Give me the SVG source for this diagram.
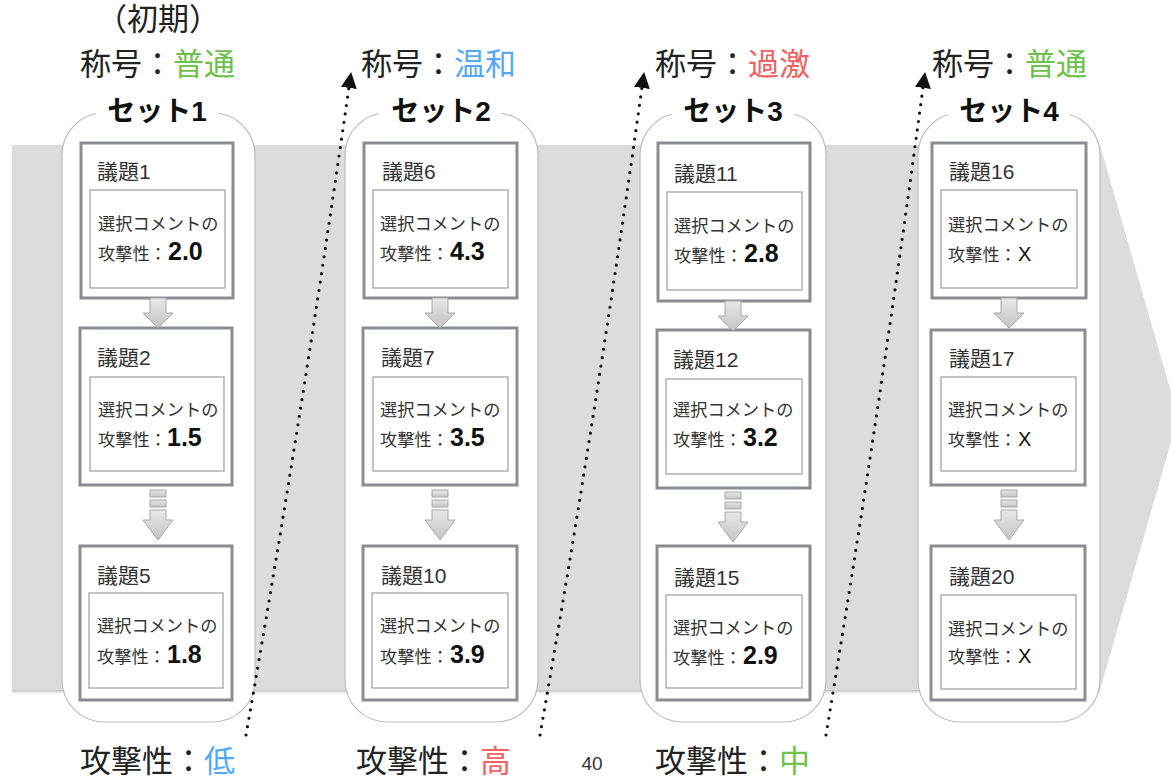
<svg xmlns="http://www.w3.org/2000/svg" width="1171" height="778" viewBox="0 0 1171 778">
<style>
text{font-family:"Liberation Sans","Noto Sans CJK JP",sans-serif;fill:#222}
.big{font-size:31px}
.set{font-size:28px;font-weight:bold;text-anchor:middle;fill:#111}
.ttl{font-size:21px;fill:#333}
.cm{font-size:17.2px;fill:#333}
.val{font-size:25px;font-weight:bold;fill:#111}
.x{font-size:20px;fill:#111}
.grn{fill:#6cc24a}.blu{fill:#55a8f5}.red{fill:#f06262}
.cont{fill:#fff;stroke:#bdbdbd;stroke-width:1.2}
.box{fill:#fff;stroke:#8a8d91;stroke-width:3}
.inner{fill:#fff;stroke:#a5a5a5;stroke-width:1.3}
.dot{fill:none;stroke:#111;stroke-width:3.2;stroke-linecap:round;stroke-dasharray:0 8.5}
.arr{fill:url(#ag);stroke:#a8a8a8;stroke-width:1}
</style>
<defs>
<linearGradient id="ag" x1="0" y1="0" x2="0" y2="1"><stop offset="0" stop-color="#e8e8e8"/><stop offset="1" stop-color="#c4c4c4"/></linearGradient>
<linearGradient id="sh" x1="0" y1="0" x2="0" y2="1"><stop offset="0" stop-color="#a0a0a0"/><stop offset="1" stop-color="#a0a0a0" stop-opacity="0"/></linearGradient>
<marker id="ah" viewBox="0 0 10 10" refX="5" refY="5" markerWidth="5" markerHeight="5" orient="auto"><path d="M0,0 L10,5 L0,10 z" fill="#111"/></marker>
<g id="a1"><path class="arr" d="M-8,0 H8 V15 H15 L0,30 L-15,15 H-8 Z"/></g>
<g id="a2"><rect class="arr" x="-8" y="0" width="16" height="7"/><rect class="arr" x="-8" y="10" width="16" height="7"/><path class="arr" d="M-8,20 H8 V30 H15 L0,50 L-15,30 H-8 Z"/></g>
</defs>

<g id="band">
<rect x="12" y="688" width="1088" height="6" fill="url(#sh)"/>
<path d="M12,145 H1100 L1171,392 L1171,442 L1100,690 H12 Z" fill="#dcdcdc"/>
</g>

<g id="labels">
<text class="big" x="158" y="30" text-anchor="middle">（初期）</text>
<text class="big" x="80" y="75">称号：<tspan class="grn">普通</tspan></text>
<text class="big" x="361" y="75">称号：<tspan class="blu">温和</tspan></text>
<text class="big" x="655" y="75">称号：<tspan class="red">過激</tspan></text>
<text class="big" x="932" y="75">称号：<tspan class="grn">普通</tspan></text>
<text class="big" x="80" y="772">攻撃性：<tspan class="blu">低</tspan></text>
<text class="big" x="356" y="772">攻撃性：<tspan class="red">高</tspan></text>
<text x="592" y="770" text-anchor="middle" style="font-size:19px;fill:#333">40</text>
<text class="big" x="655" y="772">攻撃性：<tspan class="grn">中</tspan></text>
</g>

<g id="set1">
<rect class="cont" x="62" y="113" width="193" height="609" rx="42"/>
<rect x="96" y="100" width="122" height="26" fill="#fff"/>
<text class="set" x="157" y="121">セット1</text>
</g>
<g id="set2">
<rect class="cont" x="345" y="113" width="193" height="609" rx="42"/>
<rect x="379" y="100" width="122" height="26" fill="#fff"/>
<text class="set" x="441" y="121">セット2</text>
</g>
<g id="set3">
<rect class="cont" x="640" y="113" width="186" height="609" rx="42"/>
<rect x="672" y="100" width="122" height="26" fill="#fff"/>
<text class="set" x="733" y="121">セット3</text>
</g>
<g id="set4">
<rect class="cont" x="918" y="113" width="182" height="609" rx="42"/>
<rect x="948" y="100" width="122" height="26" fill="#fff"/>
<text class="set" x="1009" y="121">セット4</text>
</g>

<g id="n1" transform="translate(81,143)"><rect class="box" width="152" height="155"/><text class="ttl" x="16" y="36">議題1</text><rect class="inner" x="9" y="47" width="135" height="98"/><text class="cm" x="17" y="87">選択コメントの</text><text class="cm" x="17" y="117">攻撃性：<tspan class="val" x="87">2.0</tspan></text></g>
<g id="n2" transform="translate(80,328)"><rect class="box" width="152" height="157"/><text class="ttl" x="17" y="37">議題2</text><rect class="inner" x="10" y="49" width="134" height="94"/><text class="cm" x="18" y="88">選択コメントの</text><text class="cm" x="18" y="118">攻撃性：<tspan class="val" x="87">1.5</tspan></text></g>
<g id="n5" transform="translate(80,546)"><rect class="box" width="152" height="154"/><text class="ttl" x="17" y="37">議題5</text><rect class="inner" x="9" y="47" width="134" height="95"/><text class="cm" x="17" y="86">選択コメントの</text><text class="cm" x="17" y="117">攻撃性：<tspan class="val" x="87">1.8</tspan></text></g>

<g id="n6" transform="translate(364,143)"><rect class="box" width="153" height="155"/><text class="ttl" x="18" y="36">議題6</text><rect class="inner" x="9" y="47" width="135" height="98"/><text class="cm" x="16" y="87">選択コメントの</text><text class="cm" x="16" y="117">攻撃性：<tspan class="val" x="86">4.3</tspan></text></g>
<g id="n7" transform="translate(363,328)"><rect class="box" width="154" height="157"/><text class="ttl" x="18" y="37">議題7</text><rect class="inner" x="10" y="49" width="135" height="94"/><text class="cm" x="17" y="88">選択コメントの</text><text class="cm" x="17" y="118">攻撃性：<tspan class="val" x="87">3.5</tspan></text></g>
<g id="n10" transform="translate(363,546)"><rect class="box" width="154" height="154"/><text class="ttl" x="18" y="37">議題10</text><rect class="inner" x="9" y="47" width="136" height="95"/><text class="cm" x="17" y="86">選択コメントの</text><text class="cm" x="17" y="117">攻撃性：<tspan class="val" x="87">3.9</tspan></text></g>

<g id="n11" transform="translate(658,143)"><rect class="box" width="152" height="158"/><text class="ttl" x="16" y="38">議題11</text><rect class="inner" x="9" y="49" width="135" height="98"/><text class="cm" x="16" y="89">選択コメントの</text><text class="cm" x="16" y="119">攻撃性：<tspan class="val" x="86">2.8</tspan></text></g>
<g id="n12" transform="translate(657,330)"><rect class="box" width="153" height="158"/><text class="ttl" x="16" y="37">議題12</text><rect class="inner" x="9" y="49" width="136" height="95"/><text class="cm" x="16" y="86">選択コメントの</text><text class="cm" x="16" y="116">攻撃性：<tspan class="val" x="86">3.2</tspan></text></g>
<g id="n15" transform="translate(657,546)"><rect class="box" width="153" height="154"/><text class="ttl" x="17" y="39">議題15</text><rect class="inner" x="9" y="49" width="136" height="93"/><text class="cm" x="16" y="88">選択コメントの</text><text class="cm" x="16" y="118">攻撃性：<tspan class="val" x="86">2.9</tspan></text></g>

<g id="n16" transform="translate(932,143)"><rect class="box" width="154" height="155"/><text class="ttl" x="17" y="36">議題16</text><rect class="inner" x="9" y="47" width="136" height="98"/><text class="cm" x="16" y="88">選択コメントの</text><text class="cm" x="16" y="118">攻撃性：<tspan class="x" x="86">X</tspan></text></g>
<g id="n17" transform="translate(931,330)"><rect class="box" width="154" height="155"/><text class="ttl" x="18" y="36">議題17</text><rect class="inner" x="10" y="47" width="135" height="94"/><text class="cm" x="17" y="86">選択コメントの</text><text class="cm" x="17" y="116">攻撃性：<tspan class="x" x="87">X</tspan></text></g>
<g id="n20" transform="translate(931,546)"><rect class="box" width="154" height="154"/><text class="ttl" x="18" y="38">議題20</text><rect class="inner" x="10" y="49" width="135" height="94"/><text class="cm" x="17" y="89">選択コメントの</text><text class="cm" x="17" y="117">攻撃性：<tspan class="x" x="87">X</tspan></text></g>

<g id="connectors">
<use href="#a1" x="158" y="298"/>
<use href="#a2" x="158" y="490"/>
<use href="#a1" x="440" y="298"/>
<use href="#a2" x="440" y="490"/>
<use href="#a1" x="733" y="301"/>
<use href="#a2" x="733" y="492"/>
<use href="#a1" x="1009" y="298"/>
<use href="#a2" x="1009" y="490"/>
<path class="dot" d="M246,735 Q303,410 350,80" marker-end="url(#ah)"/>
<path class="dot" d="M540,735 Q597,410 643,80" marker-end="url(#ah)"/>
<path class="dot" d="M826,735 Q880,410 924,80" marker-end="url(#ah)"/>
</g>
</svg>
